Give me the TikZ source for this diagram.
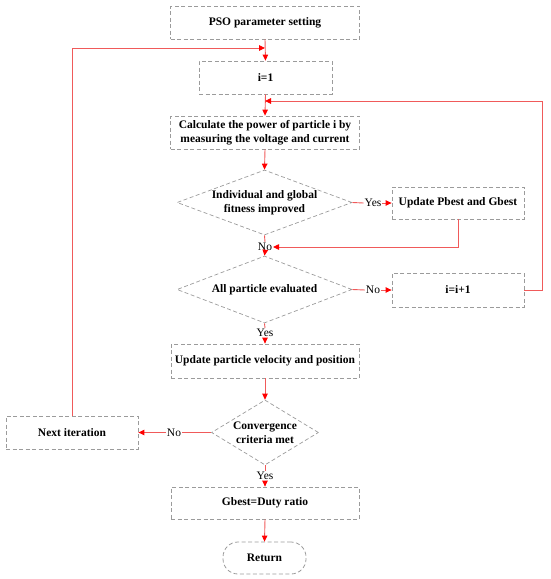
\documentclass[tikz,border=0pt]{standalone}
\usepackage{fontspec}
\setmainfont{Liberation Serif}
\usetikzlibrary{arrows.meta,shapes.geometric}
\definecolor{lnred}{RGB}{240,90,90}
\definecolor{boxgray}{RGB}{155,155,155}
\begin{document}
\begin{tikzpicture}[x=1pt,y=-1pt,
 txt/.style={font=\fontsize{11.5}{13.5}\selectfont\bfseries,align=center},
 box/.style={txt,draw=boxgray,dash pattern=on 4pt off 2.5pt,line width=0.8pt,minimum height=33pt,inner sep=0pt},
 dec/.style={draw=boxgray,dash pattern=on 4pt off 2.5pt,line width=0.7pt,shape=diamond,minimum width=175pt,minimum height=65pt,inner sep=0pt},
 lbl/.style={inner sep=0.8pt,font=\fontsize{11.5}{13.5}\selectfont},
 conn/.style={draw=lnred,line width=0.9pt},
 arr/.style={conn,-{Triangle[length=6pt,width=5.5pt,color=red]}},
]
\useasboundingbox (0,0) rectangle (550,579);
\node[box,minimum width=189pt] (pso) at (265,22.5) {PSO parameter setting};
\node[box,minimum width=133pt] (i1) at (265.5,77.5) {i=1};
\node[box,minimum width=189pt] (calc) at (265,132.5) {Calculate the power of particle i by\\measuring the voltage and current};
\node[dec] (d1) at (264.5,202.5) {};
\node[txt] (d1t) at (d1) {Individual and global\\fitness improved};
\node[box,minimum width=132pt,minimum height=32pt] (upd) at (458,203) {Update Pbest and Gbest};
\node[lbl] (yes1) at (373,203) {Yes};
\node[lbl] (no1) at (265,247) {No};
\node[dec,minimum height=67pt] (d2) at (264.5,289.5) {};
\node[txt] (d2t) at (d2) {All particle evaluated};
\node[lbl] (no2) at (373,290) {No};
\node[box,minimum width=132pt,minimum height=34pt] (inc) at (458,290) {i=i+1};
\node[lbl] (yes2) at (265,333) {Yes};
\node[box,minimum width=188pt,minimum height=34pt] (upp) at (265,361) {Update particle velocity and position};
\node[dec,minimum width=107pt,minimum height=65pt] (d3) at (265,432.5) {};
\node[txt] (d3t) at (d3) {Convergence\\criteria met};
\node[lbl] (no3) at (174,432.5) {No};
\node[box,minimum width=132pt] (next) at (72,432.5) {Next iteration};
\node[lbl] (yes3) at (265,476) {Yes};
\node[box,minimum width=188pt,minimum height=32pt] (gb) at (265,503) {Gbest=Duty ratio};
\node[box,minimum width=83pt,minimum height=32pt,rounded corners=15pt] (ret) at (264.5,558) {Return};
\coordinate (j1) at (265,48);
\coordinate (j2) at (265,101);
% connectors
\draw[arr] (pso.south) -- (i1.north);
\draw[arr] (next.north) |- (j1);
\draw[arr] (i1.south) -- (calc.north);
\draw[arr] (inc.east) -- ++(18,0) |- (j2);
\draw[arr] (calc.south) -- (d1.north);
\draw[conn] (d1.east) -- (yes1.west);
\draw[arr] (yes1.east) -- (upd.west);
\draw[conn] (d1.south) -- (no1.north);
\draw[arr] (upd.south) |- (no1.east);
\draw[arr] (no1.south) -- (d2.north);
\draw[conn] (d2.east) -- (no2.west);
\draw[arr] (no2.east) -- (inc.west);
\draw[conn] (d2.south) -- (yes2.north);
\draw[arr] (yes2.south) -- (upp.north);
\draw[arr] (upp.south) -- (d3.north);
\draw[conn] (d3.west) -- (no3.east);
\draw[arr] (no3.west) -- (next.east);
\draw[conn] (d3.south) -- (yes3.north);
\draw[arr] (yes3.south) -- (gb.north);
\draw[arr] (gb.south) -- (ret.north);
\end{tikzpicture}
\end{document}
